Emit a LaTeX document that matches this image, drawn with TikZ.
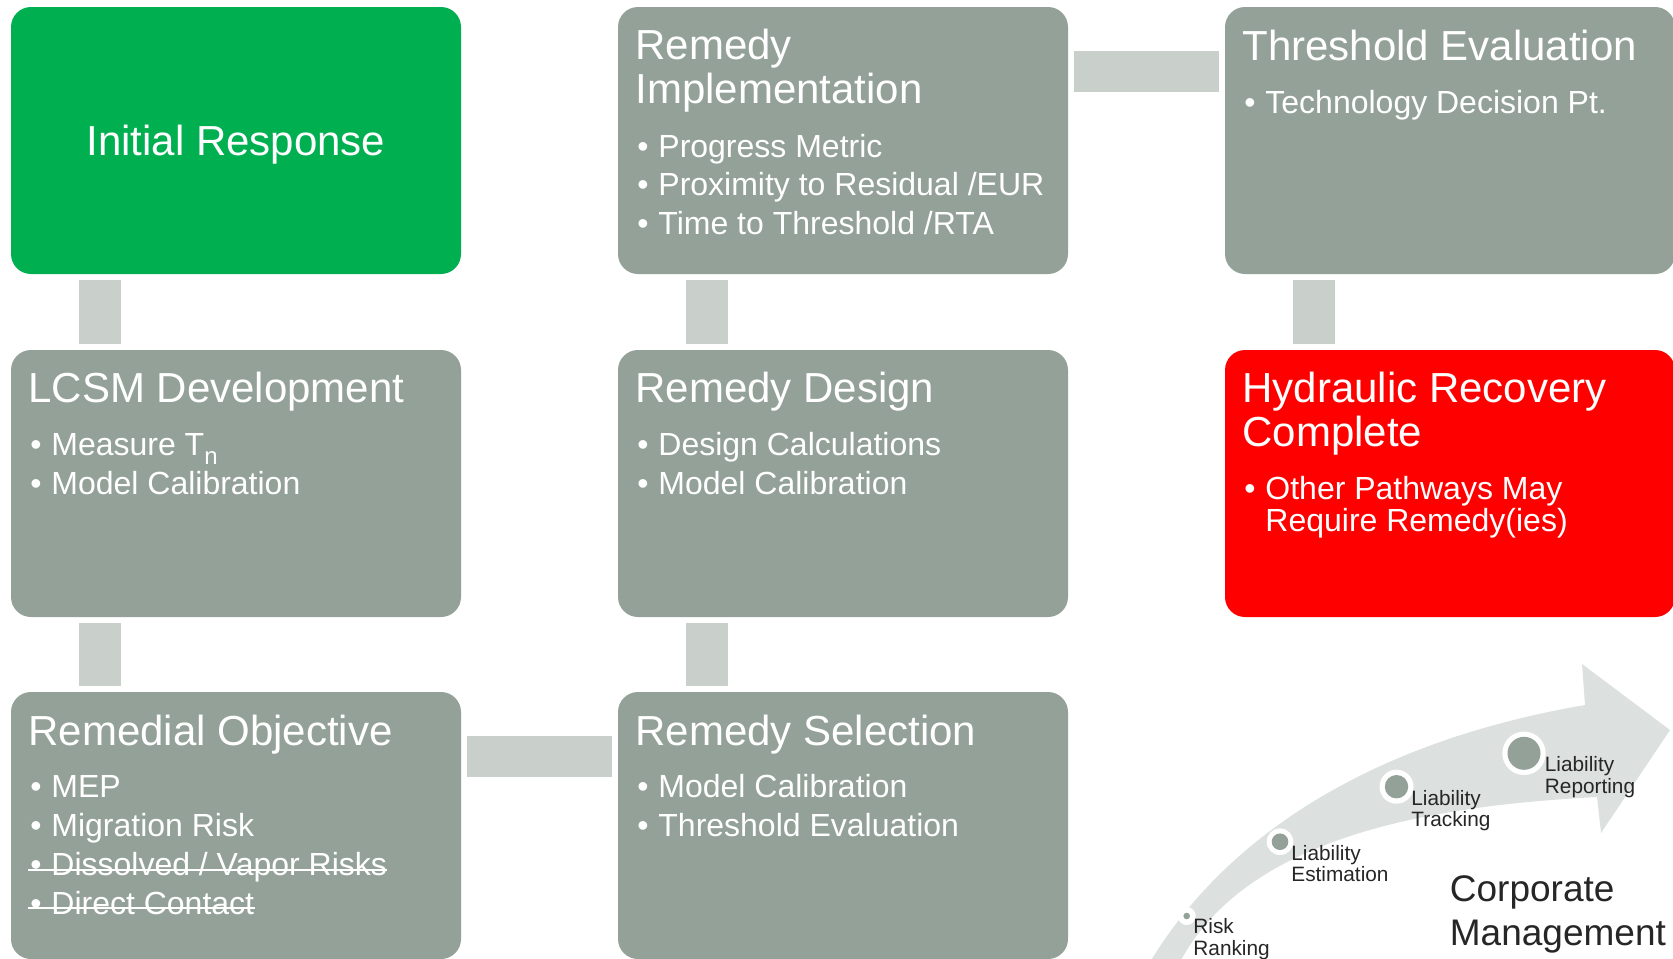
\documentclass[tikz,border=0pt]{standalone}
\usepackage{fontspec}
\setmainfont{Liberation Sans}
\usetikzlibrary{calc}
\definecolor{boxgray}{HTML}{93A198}
\definecolor{boxgreen}{HTML}{00B050}
\definecolor{boxred}{HTML}{FF0000}
\definecolor{conngray}{HTML}{C9CFCB}
\definecolor{arrowgray}{HTML}{DCE0DE}
\definecolor{labeltext}{HTML}{262626}
\newcommand\cardtitle[4]{\node[ttl] (#1) at ($(#2.north west)+(17,#3)$) {#4};}
\newcommand\cardbullet[4]{\node[bdot] (#1d) at ($(#2.north west)+(19,#3)$) {\textbullet};
  \node[btxt] (#1) at ($(#2.north west)+(40,#3)$) {#4};}
\begin{document}
\begin{tikzpicture}[x=0.5pt,y=-0.5pt,
  card/.style={anchor=north west, minimum width=225pt, minimum height=133.5pt,
    inner sep=0pt, outer sep=0pt, rounded corners=10pt, draw=none},
  ttl/.style={anchor=base west, inner sep=0pt, text=white, font=\fontsize{21}{21}\selectfont},
  bdot/.style={anchor=base west, inner sep=0pt, text=white, font=\fontsize{16}{16}\selectfont},
  btxt/.style={bdot},
  vconn/.style={draw=conngray, line width=21pt},
  hconn/.style={draw=conngray, line width=20.5pt},
  strike/.style={draw=white, line width=1pt},
  ring/.style={circle, fill=white, inner sep=0pt, outer sep=0pt},
  pip/.style={circle, fill=boxgray, inner sep=0pt, outer sep=0pt},
  lbl/.style={anchor=base west, inner sep=0pt, text=labeltext, font=\fontsize{10.4}{10.4}\selectfont},
  corp/.style={anchor=base west, inner sep=0pt, text=labeltext, font=\fontsize{18.5}{18.5}\selectfont}]

\useasboundingbox (0,0) rectangle (1673,958);

% cards
\node[card, fill=boxgreen] (ir) at (11,7) {};
\node[card, fill=boxgray] (ri) at (618,7) {};
\node[card, fill=boxgray] (te) at (1225,7) {};
\node[card, fill=boxgray] (lc) at (11,350) {};
\node[card, fill=boxgray] (rd) at (618,350) {};
\node[card, fill=boxred] (hr) at (1225,350) {};
\node[card, fill=boxgray] (ro) at (11,692) {};
\node[card, fill=boxgray] (rs) at (618,692) {};

% connectors
\draw[vconn] ($(ir.south west)+(89,6)$) -- ($(lc.north west)+(89,-6)$);
\draw[vconn] ($(lc.south west)+(89,6)$) -- ($(ro.north west)+(89,-6)$);
\draw[hconn] ($(ro.north east)+(6,64.5)$) -- ($(rs.north west)+(-6,64.5)$);
\draw[vconn] ($(rs.north west)+(89,-6)$) -- ($(rd.south west)+(89,6)$);
\draw[vconn] ($(rd.north west)+(89,-6)$) -- ($(ri.south west)+(89,6)$);
\draw[hconn] ($(ri.north east)+(6,64.5)$) -- ($(te.north west)+(-6,64.5)$);
\draw[vconn] ($(te.south west)+(89,6)$) -- ($(hr.north west)+(89,-6)$);

% Initial Response
\node[ttl, anchor=base] (irt) at ($(ir.north)+(0,148)$) {Initial Response};

% Remedy Implementation
\cardtitle{rit1}{ri}{52}{Remedy}
\cardtitle{rit2}{ri}{96}{Implementation}
\cardbullet{ri1}{ri}{150}{Progress Metric}
\cardbullet{ri2}{ri}{188.5}{Proximity to Residual /EUR}
\cardbullet{ri3}{ri}{227}{Time to Threshold /RTA}

% Threshold Evaluation
\cardtitle{tet}{te}{53}{Threshold Evaluation}
\cardbullet{te1}{te}{106}{Technology Decision Pt.}

% LCSM Development
\cardtitle{lct}{lc}{52}{LCSM Development}
\cardbullet{lc1}{lc}{105.5}{Measure T\raisebox{-4.5pt}{\fontsize{12}{12}\selectfont n}}
\cardbullet{lc2}{lc}{144}{Model Calibration}

% Remedy Design
\cardtitle{rdt}{rd}{52}{Remedy Design}
\cardbullet{rd1}{rd}{105.5}{Design Calculations}
\cardbullet{rd2}{rd}{144}{Model Calibration}

% Hydraulic Recovery Complete
\cardtitle{hrt1}{hr}{52}{Hydraulic Recovery}
\cardtitle{hrt2}{hr}{96}{Complete}
\cardbullet{hr1}{hr}{149}{Other Pathways May}
\node[btxt] (hr2) at ($(hr.north west)+(40,181.5)$) {Require Remedy(ies)};

% Remedial Objective
\cardtitle{rot}{ro}{53}{Remedial Objective}
\cardbullet{ro1}{ro}{105}{MEP}
\cardbullet{ro2}{ro}{144}{Migration Risk}
\cardbullet{ro3}{ro}{183.5}{Dissolved / Vapor Risks}
\cardbullet{ro4}{ro}{222}{Direct Contact}
\draw[strike] ($(ro3d.base west)+(-2,-6)$) -- ($(ro3.base east)+(0,-6)$);
\draw[strike] ($(ro4d.base west)+(-2,-6)$) -- ($(ro4.base east)+(0,-6)$);

% Remedy Selection
\cardtitle{rst}{rs}{53}{Remedy Selection}
\cardbullet{rs1}{rs}{105}{Model Calibration}
\cardbullet{rs2}{rs}{144}{Threshold Evaluation}

% curved arrow
\fill[arrowgray] (1150,962) .. controls (1230,830) and (1380,740) .. (1585,705)
  -- (1582,664) -- (1670,730) -- (1601,833) -- (1597,797)
  .. controls (1450,805) and (1250,830) .. (1180,962) -- cycle;

\node[ring, minimum size=9pt] (rkr) at (1186.7,916) {};
\node[pip, minimum size=3.3pt] (rkp) at (rkr.center) {};
\node[ring, minimum size=13.3pt] (esr) at (1280,841.7) {};
\node[pip, minimum size=8.3pt] (esp) at (esr.center) {};
\node[ring, minimum size=17pt] (trr) at (1396.5,786.7) {};
\node[pip, minimum size=11.7pt] (trp) at (trr.center) {};
\node[ring, minimum size=21.7pt] (rpr) at (1524,753.3) {};
\node[pip, minimum size=16.5pt] (rpp) at (rpr.center) {};

\node[lbl] (rk1) at (1193,933.3) {Risk};
\node[lbl] (rk2) at (1193,955) {Ranking};
\node[lbl] (es1) at (1291,860) {Liability};
\node[lbl] (es2) at (1291,881.7) {Estimation};
\node[lbl] (tr1) at (1411,805) {Liability};
\node[lbl] (tr2) at (1411,826.5) {Tracking};
\node[lbl] (rp1) at (1544.5,771.7) {Liability};
\node[lbl] (rp2) at (1544.5,793.3) {Reporting};

\node[corp] (cm1) at (1449.5,901.7) {Corporate};
\node[corp] (cm2) at (1449.5,945) {Management};
\end{tikzpicture}
\end{document}
